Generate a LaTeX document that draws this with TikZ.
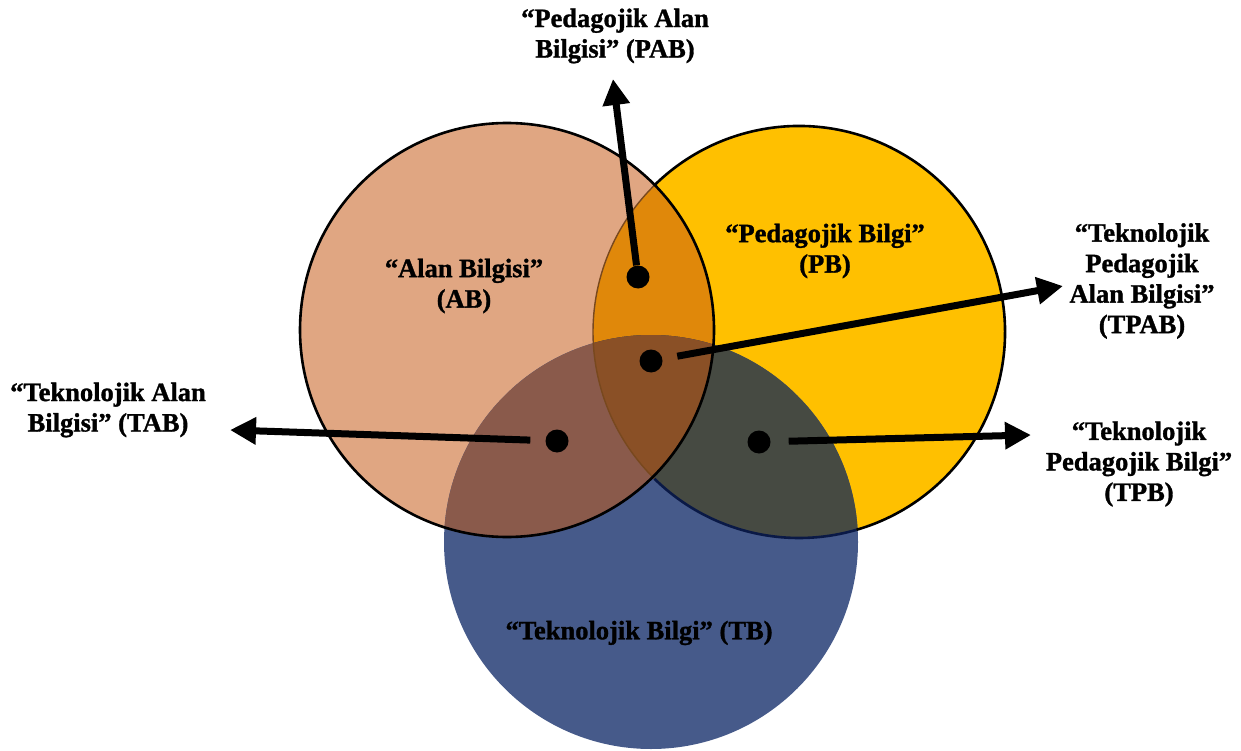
\documentclass[tikz,border=0pt]{standalone}
\usepackage{fontspec}
\setmainfont{Liberation Serif}[BoldFont={Liberation Serif Bold}, BoldFeatures={FakeBold=1.2}]
\usetikzlibrary{arrows.meta}
\definecolor{abcol}{RGB}{224,166,130}
\definecolor{pbcol}{RGB}{255,192,0}
\definecolor{tbcol}{RGB}{70,90,138}
\definecolor{abpb}{RGB}{224,136,10}
\definecolor{abtb}{RGB}{138,90,75}
\definecolor{pbtb}{RGB}{70,74,66}
\definecolor{abpbtb}{RGB}{138,80,38}
\definecolor{faint}{RGB}{120,72,30}
\definecolor{navy}{RGB}{10,25,70}
\tikzset{
  lbl/.style={font=\bfseries\fontsize{26.5}{30.5}\selectfont, align=center, inner sep=0pt},
  dot/.style={circle, fill=black, inner sep=0pt, minimum size=23pt},
  arr/.style={line width=7pt, -{Triangle[length=26pt,width=26pt]}},
  rim/.style={line width=2.6pt}
}
\begin{document}
\begin{tikzpicture}[x=1pt,y=-1pt]
\useasboundingbox (0,0) rectangle (1241,751);
\coordinate (ab) at (507,330);
\coordinate (pb) at (799,332);
\coordinate (tb) at (651,542);
% base fills
\fill[abcol] (ab) circle[radius=207pt];
\fill[pbcol] (pb) circle[radius=206pt];
\fill[tbcol] (tb) circle[radius=207pt];
% overlaps
\begin{scope}
  \clip (ab) circle[radius=207pt];
  \fill[abpb] (pb) circle[radius=206pt];
  \fill[abtb] (tb) circle[radius=207pt];
  \clip (pb) circle[radius=206pt];
  \fill[abpbtb] (tb) circle[radius=207pt];
\end{scope}
\begin{scope}
  \clip (pb) circle[radius=206pt];
  \clip (tb) circle[radius=207pt];
  \fill[pbtb] (ab) ++(-700,-700) rectangle ++(1400,1400);
  \fill[abpbtb] (ab) circle[radius=207pt];
\end{scope}
% borders
\draw[rim, faint, line width=1.4pt] (pb) ++(134.6:206pt) arc[start angle=134.6, end angle=225.4, radius=206pt];
\draw[rim, navy] (pb) ++(225.4:206pt) arc[start angle=225.4, end angle=286.2, radius=206pt];
\draw[rim, black] (pb) ++(286.2:206pt) arc[start angle=286.2, end angle=494.6, radius=206pt];
\draw[rim, black] (ab) circle[radius=207pt];
% labels
\node[lbl] (lab) at (464,286) {“Alan Bilgisi”\\(AB)};
\node[lbl] (lpb) at (825,251) {“Pedagojik Bilgi”\\(PB)};
\node[lbl] (ltb) at (639,633) {“Teknolojik Bilgi” (TB)};
\node[lbl] (lpab) at (615,36) {“Pedagojik Alan\\Bilgisi” (PAB)};
\node[lbl] (ltab) at (108,410) {“Teknolojik Alan\\Bilgisi” (TAB)};
\node[lbl] (ltpab) at (1142,281) {“Teknolojik\\Pedagojik\\Alan Bilgisi”\\(TPAB)};
\node[lbl] (ltpb) at (1139,464) {“Teknolojik\\Pedagojik Bilgi”\\(TPB)};
% dots
\node[dot] (dpab) at (638,277) {};
\node[dot] (dtpab) at (651,361) {};
\node[dot] (dtab) at (557,441) {};
\node[dot] (dtpb) at (759,442) {};
% arrow tips
\coordinate (tpab) at (613,79);
\coordinate (ttpab) at (1063,286);
\coordinate (ttab) at (230,430);
\coordinate (ttpb) at (1031,435);
\draw[arr] (dpab) -- (tpab);
\draw[arr, shorten <=15pt] (dtpab) -- (ttpab);
\draw[arr, shorten <=15pt] (dtab) -- (ttab);
\draw[arr, shorten <=18pt] (dtpb) -- (ttpb);
\end{tikzpicture}
\end{document}
